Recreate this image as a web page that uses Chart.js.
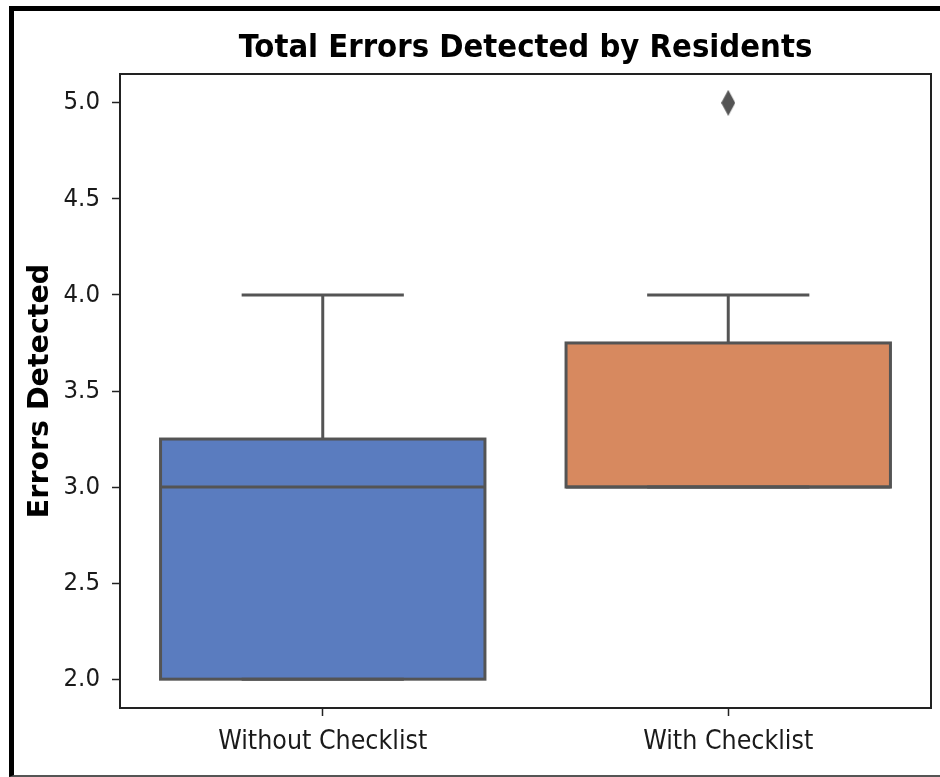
<!DOCTYPE html>
<html>
<head>
<meta charset="utf-8">
<script src="https://cdn.jsdelivr.net/npm/chart.js@4.4.1/dist/chart.umd.min.js"></script>
<style>
  html, body { margin: 0; padding: 0; background: #fff; }
  #wrap { position: relative; width: 940px; height: 777px; overflow: hidden; background: #fff; }
  #chart { position: absolute; left: 0; top: 0; }
  #frame {
    position: absolute; left: 9px; top: 6px; width: 1000px; height: 771px;
    box-sizing: border-box; border-top: 5px solid #000; border-left: 5px solid #000;
    border-bottom: 2px solid #555; pointer-events: none;
  }
</style>
</head>
<body>
<div id="wrap">
  <canvas id="chart" width="940" height="777"></canvas>
  <div id="frame"></div>
</div>
<script>
// Box-plot summary per group
const categories = ['Without Checklist', 'With Checklist'];
const whiskerLow = [2.0, 3.0];
const q1 = [2.0, 3.0];
const medians = [3.0, 3.0];
const q3 = [3.25, 3.75];
const whiskerHigh = [4.0, 4.0];
const outliers = [null, 5.0];
const yTicks = [2.0, 2.5, 3.0, 3.5, 4.0, 4.5, 5.0];

const boxColors = ['#5a7cbf', '#d7895f'];
const lineColor = '#545454';
const axisColor = '#222222';
const textColor = '#1a1a1a';

Chart.defaults.font.family = "'DejaVu Sans Condensed', 'DejaVu Sans', sans-serif";
Chart.defaults.color = textColor;

// Thin diamond marker for outliers
const diamond = document.createElement('canvas');
diamond.width = 14; diamond.height = 26;
(function () {
  const d = diamond.getContext('2d');
  d.fillStyle = lineColor;
  d.beginPath();
  d.moveTo(7, 0); d.lineTo(14, 13); d.lineTo(7, 26); d.lineTo(0, 13);
  d.closePath();
  d.fill();
})();

// Box outlines, whiskers, caps and median lines, placed through the chart scales
const boxWhiskers = {
  id: 'boxWhiskers',
  afterDatasetsDraw(chart) {
    const meta = chart.getDatasetMeta(0);
    const y = chart.scales.y;
    const ctx = chart.ctx;
    const seg = (x1, y1, x2, y2) => { ctx.beginPath(); ctx.moveTo(x1, y1); ctx.lineTo(x2, y2); ctx.stroke(); };
    ctx.save();
    ctx.strokeStyle = lineColor;
    ctx.lineWidth = 3;
    meta.data.forEach((bar, i) => {
      const cx = bar.x;
      const half = bar.width / 2;
      const capHalf = half / 2;
      const yQ1 = y.getPixelForValue(q1[i]);
      const yQ3 = y.getPixelForValue(q3[i]);
      const yLo = y.getPixelForValue(whiskerLow[i]);
      const yHi = y.getPixelForValue(whiskerHigh[i]);
      const yMed = y.getPixelForValue(medians[i]);
      if (whiskerHigh[i] > q3[i]) seg(cx, yQ3, cx, yHi);
      if (whiskerLow[i] < q1[i]) seg(cx, yQ1, cx, yLo);
      seg(cx - capHalf, yHi, cx + capHalf, yHi);
      seg(cx - capHalf, yLo, cx + capHalf, yLo);
      ctx.strokeRect(cx - half, yQ3, half * 2, yQ1 - yQ3);
      seg(cx - half, yMed, cx + half, yMed);
    });
    ctx.restore();
  }
};

// Full rectangular frame around the plotting area
const plotFrame = {
  id: 'plotFrame',
  afterDraw(chart) {
    const { left, right, top, bottom } = chart.chartArea;
    const ctx = chart.ctx;
    ctx.save();
    ctx.strokeStyle = axisColor;
    ctx.lineWidth = 2;
    ctx.strokeRect(left, top, right - left, bottom - top);
    ctx.restore();
  }
};

new Chart(document.getElementById('chart'), {
  type: 'bar',
  data: {
    labels: categories,
    datasets: [
      {
        data: q1.map((v, i) => [v, q3[i]]),
        backgroundColor: boxColors,
        borderWidth: 0,
        barPercentage: 0.8,
        categoryPercentage: 1.0
      },
      {
        type: 'line',
        data: outliers,
        showLine: false,
        pointStyle: diamond,
        pointRadius: 7,
        pointBackgroundColor: lineColor,
        pointBorderColor: lineColor
      }
    ]
  },
  options: {
    responsive: false,
    animation: false,
    devicePixelRatio: 1,
    layout: { padding: { left: 0, right: 9, top: 12, bottom: 0 } },
    plugins: {
      legend: { display: false },
      tooltip: { enabled: false },
      title: {
        display: true,
        text: 'Total Errors Detected by Residents',
        fullSize: false,
        color: '#000',
        font: { size: 32.5, weight: 'bold' },
        padding: { top: 17, bottom: 6 }
      }
    },
    scales: {
      x: {
        offset: true,
        grid: { display: true, offset: false, drawOnChartArea: false, drawTicks: true, tickLength: 8, tickColor: axisColor, tickWidth: 1.5 },
        border: { display: false },
        ticks: { color: textColor, font: { size: 26.5 }, padding: 10, maxRotation: 0 },
        afterFit(scale) { scale.height = 69; }
      },
      y: {
        min: 1.85,
        max: 5.15,
        grid: { display: true, drawOnChartArea: false, drawTicks: true, tickLength: 8, tickColor: axisColor, tickWidth: 1.5 },
        border: { display: false },
        afterBuildTicks(scale) { scale.ticks = yTicks.map(v => ({ value: v })); },
        ticks: { color: textColor, font: { size: 25.5 }, padding: 12, callback: v => Number(v).toFixed(1) },
        title: {
          display: true,
          text: 'Errors Detected',
          color: '#000',
          font: { family: "'DejaVu Sans', sans-serif", size: 28.5, weight: 'bold' },
          padding: { top: 23, bottom: 0 }
        },
        afterFit(scale) { scale.width = 120; }
      }
    }
  },
  plugins: [boxWhiskers, plotFrame]
});
</script>
</body>
</html>
